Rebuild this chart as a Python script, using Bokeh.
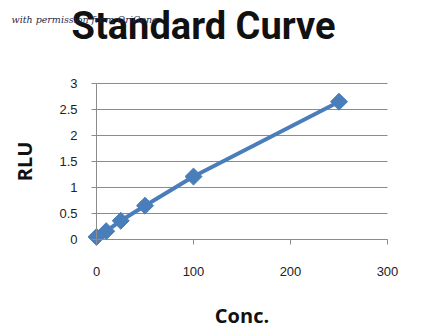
import math
from bokeh.plotting import figure
from bokeh.models import Label, Range1d, FixedTicker
from bokeh.embed import file_html
from bokeh.resources import INLINE

conc = [0, 10, 25, 50, 100, 250]
rlu = [0.05, 0.16, 0.36, 0.65, 1.21, 2.65]
x_ticks = [0, 100, 200, 300]
y_ticks = [0, 0.5, 1, 1.5, 2, 2.5, 3]

BLUE = "#4A7EBB"
GRID = "#8C8C8C"

W, H = 432, 334
# plot-area placement in pixels (left, right, top, bottom)
PL, PR, PT, PB = 96, 387, 83, 239
sx = (PR - PL) / (x_ticks[-1] - x_ticks[0])
sy = (PB - PT) / (y_ticks[-1] - y_ticks[0])
xr = Range1d(x_ticks[0] - PL / sx, x_ticks[-1] + (W - PR) / sx)
yr = Range1d(y_ticks[0] - (H - PB) / sy, y_ticks[-1] + PT / sy)

p = figure(width=W, height=H, output_backend="svg", toolbar_location=None,
           x_range=xr, y_range=yr,
           min_border_left=0, min_border_right=0, min_border_top=0, min_border_bottom=0)
p.outline_line_color = None
p.background_fill_color = "white"
p.border_fill_color = "white"
p.xgrid.grid_line_color = None
p.ygrid.grid_line_color = None

# horizontal gridlines across the value range
p.segment(x0=[x_ticks[0]] * len(y_ticks), x1=[x_ticks[-1]] * len(y_ticks),
          y0=y_ticks, y1=y_ticks, line_color=GRID, line_width=1)

p.xaxis.ticker = FixedTicker(ticks=x_ticks)
p.yaxis.ticker = FixedTicker(ticks=y_ticks)
p.xaxis.fixed_location = 0
p.yaxis.fixed_location = 0
p.xaxis.bounds = (x_ticks[0], x_ticks[-1])
p.yaxis.bounds = (y_ticks[0], y_ticks[-1])
p.xaxis.minor_tick_line_color = None
p.yaxis.minor_tick_line_color = None
for ax in (p.xaxis, p.yaxis):
    ax.axis_line_color = GRID
    ax.major_tick_line_color = GRID
    ax.major_tick_in = 0
    ax.major_tick_out = 5
    ax.major_label_text_font = "Liberation Sans"
    ax.major_label_text_font_size = "13px"
    ax.major_label_text_color = "#222222"
    ax.axis_label_text_font = "Open Sans"
    ax.axis_label_text_font_style = "bold"
    ax.axis_label_text_color = "#111111"
p.yaxis.major_label_standoff = 14
p.xaxis.major_label_standoff = 22
p.yaxis.axis_label = "RLU"
p.yaxis.axis_label_text_font_size = "20px"
p.yaxis.axis_label_standoff = 18
p.xaxis.axis_label = "Conc."
p.xaxis.axis_label_text_font_size = "20px"
p.xaxis.axis_label_standoff = 23

p.line(conc, rlu, line_color=BLUE, line_width=4)
p.scatter(conc, rlu, marker="square", angle=math.pi / 4, size=12,
          fill_color=BLUE, line_color=BLUE)

title = Label(x=203, y=H - 25, x_units="screen", y_units="screen",
              text="Standard Curve", text_align="center", text_baseline="alphabetic",
              text_font="Roboto", text_font_style="bold",
              text_font_size="38px", text_color="#111111")
p.add_layout(title)
wm = Label(x=11, y=H - 19, x_units="screen", y_units="screen",
           text="with permission from OriGene", text_baseline="alphabetic",
           text_font="DejaVu Serif", text_font_style="italic",
           text_font_size="9.5px", text_color="#1F2A4A")
p.add_layout(wm)

open("out.html", "w").write(file_html(p, INLINE))
